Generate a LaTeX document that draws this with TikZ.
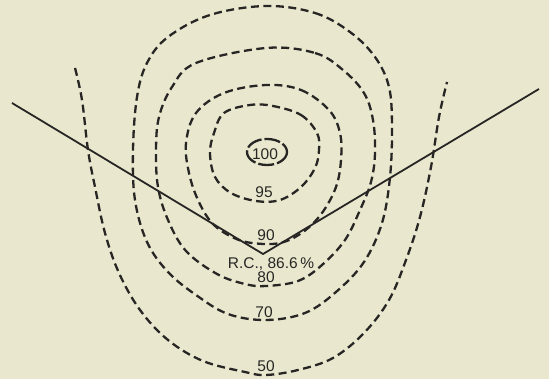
\documentclass[tikz,border=0pt]{standalone}
\usepackage{fontspec}
\setmainfont{Liberation Sans}
\definecolor{paper}{RGB}{233,232,206}
\definecolor{ink}{RGB}{40,38,36}
\tikzset{
  contour/.style={ink,line width=2.3pt,dash pattern=on 8pt off 4.5pt},
  lbl/.style={font=\fontsize{15.5}{15.5}\selectfont,text=ink,inner sep=0pt}
}

\begin{document}
\begin{tikzpicture}[x=1pt,y=-1pt]
  \fill[paper] (0,0) rectangle (549,379);
  \useasboundingbox (0,0) rectangle (549,379);
  % recovery contours
  \draw[contour] plot[smooth,tension=0.6] coordinates {(75,68) (82,100) (88,150) (95,187) (105,233) (119,273) (140,310) (168,340) (203,361) (245,372) (266,375) (298,370) (333,358) (364,333) (389,300) (406,260) (420,217) (431,167) (439,117) (447,82)};
  \draw[contour] plot[smooth cycle,tension=0.6] coordinates {(266,6) (315,13) (350,32) (375,57) (389,87) (392,127) (390,177) (382,223) (364,262) (336,292) (305,313) (266,320) (228,314) (196,295) (168,272) (147,242) (135,200) (133,150) (137,97) (147,63) (168,37) (210,15)};
  \draw[contour] plot[smooth cycle,tension=0.6] coordinates {(266,48) (315,53) (343,70) (364,93) (373,120) (375,153) (371,182) (360,210) (345,240) (322,265) (298,281) (266,286) (245,284) (217,274) (186,251) (168,220) (158,187) (156,150) (159,117) (172,87) (196,63)};
  \draw[contour] plot[smooth cycle,tension=0.6] coordinates {(266,85) (301,90) (329,110) (340,133) (341,160) (336,187) (322,213) (303,232) (280,243) (252,243) (232,237) (212,223) (198,200) (189,173) (186,143) (196,113) (224,93)};
  \draw[contour] plot[smooth cycle,tension=0.6] coordinates {(273,106) (301,115) (317,133) (319,150) (315,168) (301,187) (280,200) (256,201) (231,193) (215,177) (210,153) (214,133) (224,113) (250,105)};
  \draw[contour,dash pattern=on 16pt off 3pt] (267,152) ellipse [x radius=20, y radius=13];
  % cone section
  \coordinate (tl) at (12,103);
  \coordinate (apex) at (263,254);
  \coordinate (tr) at (539,89);
  \draw[ink,line width=1.8pt] (tl) -- (apex) -- (tr);
  \foreach \p/\l/\n in {(264,198)/95/l95,(266,241)/90/l90,(266,283)/80/l80,(264,318)/70/l70,(266,372)/50/l50}
    {\node[lbl,anchor=south] (\n) at \p {\l};}
  \node[lbl] (l100) at (265,154) {100};
  \node[lbl] (rc) at (271,264) {R.C., 86.6\,\%};
\end{tikzpicture}
\end{document}
